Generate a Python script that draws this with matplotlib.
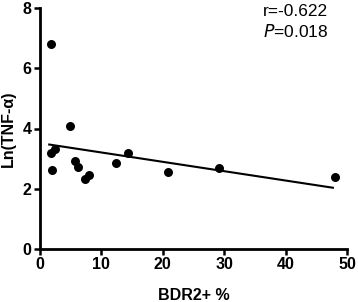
import numpy as np
import matplotlib
matplotlib.use("Agg")
import matplotlib.pyplot as plt

plt.rcParams['font.family'] = ['Liberation Sans', 'DejaVu Sans']

# BDR2+ % vs Ln(TNF-alpha)
bdr2 = [1.8, 4.9, 1.8, 2.5, 1.9, 5.7, 6.2, 7.3, 7.9, 12.4, 14.3, 20.8, 29.2, 48.0]
ln_tnf = [6.8, 4.07, 3.18, 3.31, 2.62, 2.93, 2.73, 2.31, 2.44, 2.85, 3.18, 2.57, 2.70, 2.40]
xticks = [0, 10, 20, 30, 40, 50]
yticks = [0, 2, 4, 6, 8]

fig = plt.figure(figsize=(3.58, 3.02), dpi=100)
ax = fig.add_axes([40/358, 1 - 249/302, 307/358, 241/302])

ax.scatter(bdr2, ln_tnf, s=42, color='black', zorder=3, linewidths=0)

# linear fit over the data range
k, b = np.polyfit(bdr2, ln_tnf, 1)
xs = np.array([min(bdr2) - 0.3, max(bdr2) - 0.3])
ax.plot(xs, k * xs + b, color='black', lw=1.5)

ax.set_xlim(0, 50)
ax.set_ylim(0, 8)
ax.set_xticks(xticks)
ax.set_yticks(yticks)
for s in ['top', 'right']:
    ax.spines[s].set_visible(False)
for s in ['left', 'bottom']:
    ax.spines[s].set_linewidth(2)
ax.tick_params(width=1.8, length=4, labelsize=11.5, pad=2)
for lab in ax.get_xticklabels() + ax.get_yticklabels():
    lab.set_fontweight('bold')

ax.set_xlabel('BDR2+ %', fontsize=11.5, fontweight='bold', labelpad=11)
ax.set_ylabel('Ln(TNF-α)', fontsize=11.5, fontweight='bold', labelpad=5)

fig.text(263/358, 1 - 16/302, 'r=-0.622', fontsize=12.5)
fig.text(263/358, 1 - 37/302, r'$\it{P}$=0.018', fontsize=12.5)

fig.savefig('out.png', dpi=100)
